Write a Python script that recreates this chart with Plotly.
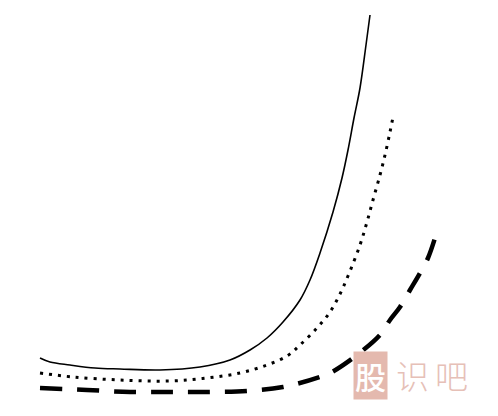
import plotly.graph_objects as go

# curve samples (x, y in picture pixels, y downwards)
SOLID_X = [40, 50, 70, 95, 120, 160, 200, 230, 250, 267, 283, 300, 310, 320, 333, 342, 348, 354, 360, 366, 370]
SOLID_Y = [358, 362, 365, 368, 369, 370, 367, 360, 350, 338, 322, 300, 280, 253, 212, 178, 150, 118, 88, 45, 15]

DOT_X = [40, 73, 120, 170, 207, 240, 267, 287, 300, 317, 330, 340, 348, 360, 367, 373, 380, 385, 390, 393]
DOT_Y = [373, 377, 380, 381, 378, 373, 365, 356, 345, 328, 312, 294, 276, 245, 222, 200, 175, 155, 132, 117]

DASH_X = [40, 87, 130, 170, 207, 247, 283, 320, 332, 357, 380, 390, 400, 410, 420, 428, 435]
DASH_Y = [388, 390, 392, 392, 392, 391, 387, 377, 372, 355, 335, 320, 307, 290, 273, 258, 238]

# watermark characters and their centres
MARK_CHARS = ["识", "吧"]
MARK_X = [412, 451]

fig = go.Figure()

fig.add_trace(go.Scatter(
    x=SOLID_X, y=SOLID_Y, mode="lines",
    line=dict(color="black", width=1.6, shape="spline"),
))
fig.add_trace(go.Scatter(
    x=DOT_X, y=DOT_Y, mode="lines",
    line=dict(color="black", width=3, dash="3px,6px", shape="spline"),
))
fig.add_trace(go.Scatter(
    x=DASH_X, y=DASH_Y, mode="lines",
    line=dict(color="black", width=4.5, dash="22px,15px", shape="spline"),
))

# watermark
fig.add_annotation(
    x=370, y=375, text="股", showarrow=False,
    font=dict(family="Noto Sans CJK SC", size=31, color="white", weight=500),
    bgcolor="#e4b9ae", borderpad=1,
)
for ch, cx in zip(MARK_CHARS, MARK_X):
    fig.add_annotation(
        x=cx, y=375, text=ch, showarrow=False,
        font=dict(family="Noto Sans CJK SC", size=33, color="#e6c0b7", weight=300),
    )

# page body has an 8px margin, so the figure is 8px smaller and the ranges start at 8
fig.update_xaxes(range=[8, 498], visible=False)
fig.update_yaxes(range=[416, 8], visible=False)

fig.update_layout(
    width=490, height=408,
    margin=dict(l=0, r=0, t=0, b=0),
    showlegend=False,
    plot_bgcolor="white", paper_bgcolor="white",
)

fig.write_html("out.html")
